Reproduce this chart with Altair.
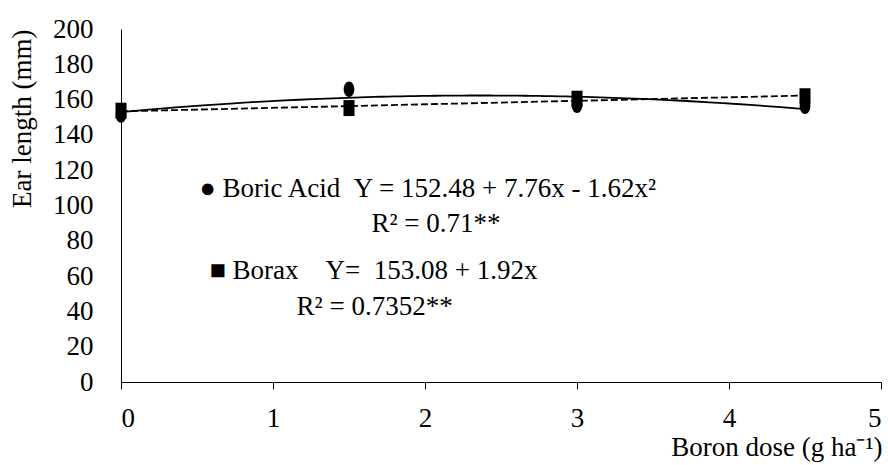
import altair as alt
import pandas as pd

# Data
doses = [0, 1.5, 3, 4.5]
boric_acid = [151.3, 165.9, 156.8, 156.2]
borax = [153.7, 155.2, 160.5, 161.9]

y_ticks = [0, 20, 40, 60, 80, 100, 120, 140, 160, 180, 200]
x_ticks = [0, 1, 2, 3, 4, 5]

NB = "\u00a0"
ann_text = [
    "\u25cf Boric Acid" + NB * 2 + "Y = 152.48 + 7.76x - 1.62x\u00b2",
    "R\u00b2 = 0.71**",
    "\u25a0 Borax" + NB * 4 + "Y=" + NB * 2 + "153.08 + 1.92x",
    "R\u00b2 = 0.7352**",
]
ann_x = [0.516, 1.648, 0.582, 1.155]
ann_y = [105.0, 85.2, 58.2, 38.0]

FONT = "Liberation Serif"
FS = 27

df_ba = pd.DataFrame({"x": doses, "y": boric_acid})
df_bx = pd.DataFrame({"x": doses, "y": borax})
df_ann = pd.DataFrame({"x": ann_x, "y": ann_y, "t": ann_text})

xs = alt.Scale(domain=[0, 5], nice=False)
ys = alt.Scale(domain=[0, 200], nice=False)

x_axis = alt.Axis(
    values=x_ticks, format="d", grid=False, tickSize=7, tickColor="black",
    domainColor="black", labelFont=FONT, labelFontSize=FS, labelColor="black",
    labelPadding=16, labelOverlap=False,
    title="Boron dose (g ha\u207b\u00b9)", titleFont=FONT, titleFontSize=FS,
    titleFontWeight="normal", titleColor="black", titleAlign="right",
    titleAnchor="end", titleBaseline="alphabetic", titleX=761, titleY=73,
)
y_axis = alt.Axis(
    values=y_ticks, grid=False, ticks=False, domainColor="black",
    labelFont=FONT, labelFontSize=FS, labelColor="black", labelPadding=28,
    labelOverlap=False, labelSeparation=0,
    title="Ear length (mm)", titleFont=FONT, titleFontSize=FS,
    titleFontWeight="normal", titleColor="black", titleAlign="right",
    titleBaseline="bottom", titleAngle=-90, titleX=-85, titleY=0,
)

X = alt.X("x:Q", scale=xs, axis=x_axis)
Y = alt.Y("y:Q", scale=ys, axis=y_axis)

ellipse = "M-0.69,0 A0.69,1 0 1,0 0.69,0 A0.69,1 0 1,0 -0.69,0 Z"
rect = "M-0.69,-1 L0.69,-1 L0.69,1 L-0.69,1 Z"

base_ba = alt.Chart(df_ba)
base_bx = alt.Chart(df_bx)

line_ba = base_ba.transform_regression("x", "y", method="poly", order=2).mark_line(
    color="black", strokeWidth=1.8
).encode(x=X, y=Y)

line_bx = base_bx.transform_regression("x", "y", method="linear").mark_line(
    color="black", strokeWidth=1.8, strokeDash=[7, 3]
).encode(x=X, y=Y)

pts_ba = base_ba.mark_point(
    shape=ellipse, size=240, filled=True, color="black", opacity=1
).encode(x=X, y=Y)

pts_bx = base_bx.mark_point(
    shape=rect, size=256, filled=True, color="black", opacity=1
).encode(x=X, y=Y)

ann = alt.Chart(df_ann).mark_text(
    align="left", baseline="alphabetic", font=FONT, fontSize=FS, color="black"
).encode(x=X, y=Y, text="t:N")

chart = alt.layer(line_ba, line_bx, pts_ba, pts_bx, ann).properties(
    width=760, height=353,
    autosize=alt.AutoSizeParams(type="none"),
    padding={"left": 121, "top": 29, "right": 7, "bottom": 83},
    background="white",
).configure_view(stroke=None).configure_axis(labelOverlap=False)

chart.save("out.html", embed_options={"renderer": "svg", "actions": False})
